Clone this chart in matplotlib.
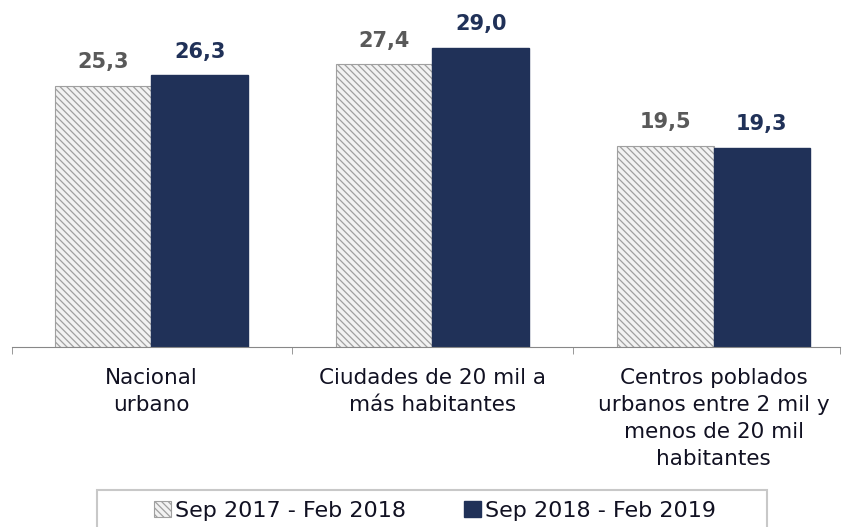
import matplotlib
matplotlib.use("Agg")
import matplotlib.pyplot as plt
from matplotlib.patches import Rectangle
import numpy as np

categories = ["Nacional\nurbano", "Ciudades de 20 mil a\nmás habitantes",
              "Centros poblados\nurbanos entre 2 mil y\nmenos de 20 mil\nhabitantes"]
serie_2018 = [25.3, 27.4, 19.5]
serie_2019 = [26.3, 29.0, 19.3]
labels = ["Sep 2017 - Feb 2018", "Sep 2018 - Feb 2019"]

navy = "#203158"
plt.rcParams['font.family'] = ['DejaVu Sans']
plt.rcParams['hatch.color'] = '#6e6e6e'
plt.rcParams['hatch.linewidth'] = 0.9

fig = plt.figure(figsize=(8.44, 5.27), dpi=100)
ax = fig.add_axes([12/844, 180/527, 828/844, 347/527])

x = np.arange(len(categories))
w = 0.343
ax.bar(x - w/2, serie_2018, w, color="#f2f2f2", edgecolor="#a0a0a0",
       hatch="\\\\\\\\\\", linewidth=0.8, label=labels[0])
ax.bar(x + w/2, serie_2019, w, color=navy, edgecolor=navy, label=labels[1])

for xi, v in zip(x - w/2, serie_2018):
    ax.text(xi, v + 1.3, f"{v:.1f}".replace(".", ","), ha="center", va="bottom",
            fontsize=15, fontweight="bold", color="#595959")
for xi, v in zip(x + w/2, serie_2019):
    ax.text(xi, v + 1.3, f"{v:.1f}".replace(".", ","), ha="center", va="bottom",
            fontsize=15, fontweight="bold", color=navy)

ax.set_xlim(-0.496, 2.45)
ax.set_ylim(0, 33.6)
ax.set_yticks([])
for s in ["top", "right", "left"]:
    ax.spines[s].set_visible(False)
ax.spines["bottom"].set_color("#888888")
ax.set_xticks(x)
ax.set_xticklabels(categories, fontsize=15.5, linespacing=1.45, color="#111122")
ax.tick_params(axis="x", which="major", length=0, pad=15)
ax.set_xticks([-0.496, 0.5, 1.5, 2.45], minor=True)
ax.tick_params(axis="x", which="minor", length=5, color="#888888", direction="out")

leg = fig.legend(loc="center", bbox_to_anchor=(435/844, 16/527), ncol=2, fontsize=16,
                 frameon=False, handlelength=0.75, handleheight=0.75,
                 handletextpad=0.2, columnspacing=2.6, borderpad=0, borderaxespad=0)
for t in leg.get_texts():
    t.set_color("#111122")

fig.add_artist(Rectangle((97/844, -0.05), 670/844, (37/527) + 0.05,
                         transform=fig.transFigure, fill=False,
                         edgecolor="#c8c8c8", linewidth=1.5))

fig.savefig("out.png", dpi=100)
